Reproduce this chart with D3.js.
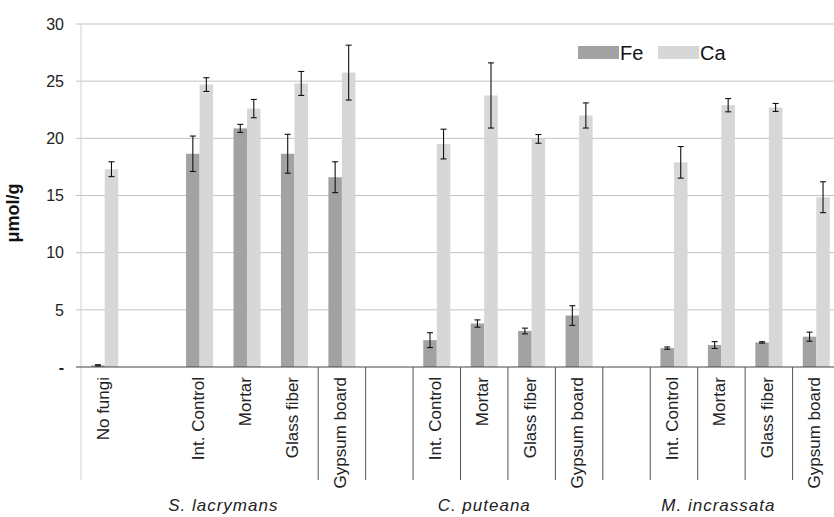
<!DOCTYPE html>
<html>
<head>
<meta charset="utf-8">
<script src="https://cdn.jsdelivr.net/npm/d3@7"></script>
<style>
  html, body { margin: 0; padding: 0; background: #fff; }
  svg { display: block; font-family: "Liberation Sans", Arial, sans-serif; }
</style>
</head>
<body>
<svg id="chart" width="834" height="517"></svg>
<script>
// ---- data ----
const categories = ["No fungi", "", "Int. Control", "Mortar", "Glass fiber", "Gypsum board",
                    "", "Int. Control", "Mortar", "Glass fiber", "Gypsum board",
                    "", "Int. Control", "Mortar", "Glass fiber", "Gypsum board"];
const groups = ["S. lacrymans", "C. puteana", "M. incrassata"];
const groupStart = [0, 6, 11];
const groupEnd = [5, 10, 15];
const separatorSlots = [5, 6, 7, 8, 9, 10, 11, 12, 13, 14, 15, 16];
const seriesNames = ["Fe", "Ca"];
const feValues = [0.15, null, 18.65, 20.87, 18.65, 16.6, null, 2.35, 3.8, 3.15, 4.5, null, 1.65, 1.92, 2.15, 2.65];
const feErrors = [0.05, null, 1.55, 0.35, 1.7, 1.35, null, 0.65, 0.32, 0.25, 0.86, null, 0.1, 0.3, 0.06, 0.4];
const caValues = [17.3, null, 24.7, 22.6, 24.8, 25.75, null, 19.5, 23.75, 19.95, 22.0, null, 17.9, 22.9, 22.7, 14.85];
const caErrors = [0.65, null, 0.6, 0.8, 1.05, 2.4, null, 1.3, 2.85, 0.38, 1.1, null, 1.38, 0.58, 0.35, 1.35];
const yTicks = [0, 5, 10, 15, 20, 25, 30];
const yTickLabels = ["-", "5", "10", "15", "20", "25", "30"];
const colors = { Fe: "#a2a2a2", Ca: "#d7d7d7" };

// ---- layout ----
const svg = d3.select("#chart");
const plotLeft = 81, plotRight = 840, plotTop = 24, plotBottom = 367, catBottom = 480;

const x = d3.scaleBand().domain(d3.range(categories.length)).range([plotLeft, plotRight]).padding(0);
const slotW = x.bandwidth();
const sub = d3.scaleBand().domain(seriesNames).range([-slotW * 0.285, slotW * 0.285]).padding(0);
const y = d3.scaleLinear().domain([0, 30]).range([plotBottom, plotTop]);

// gridlines
svg.append("g").selectAll("line").data(yTicks.filter(d => d > 0)).join("line")
  .attr("x1", plotLeft - 5).attr("x2", plotRight)
  .attr("y1", d => y(d)).attr("y2", d => y(d))
  .attr("stroke", "#c2c2c2").attr("stroke-width", 1);

// left axis line
svg.append("line").attr("x1", plotLeft).attr("x2", plotLeft)
  .attr("y1", plotTop).attr("y2", catBottom).attr("stroke", "#d0d0d0");

// y tick labels
svg.append("g").selectAll("text").data(yTicks).join("text")
  .attr("x", 64).attr("y", d => y(d)).attr("dy", "0.36em")
  .attr("text-anchor", "end").attr("font-size", 16).attr("fill", "#222")
  .attr("font-weight", (d, i) => yTickLabels[i] === "-" ? "bold" : "normal")
  .text((d, i) => yTickLabels[i]);

// y axis title
svg.append("text").attr("transform", "translate(19,213) rotate(-90)")
  .attr("text-anchor", "middle").attr("font-size", 18).attr("font-weight", "bold").attr("fill", "#111")
  .text("μmol/g");

// bars
const rows = categories.map((c, i) => ({ i, Fe: feValues[i], FeE: feErrors[i], Ca: caValues[i], CaE: caErrors[i] }));
const barData = [];
rows.forEach(r => seriesNames.forEach(s => { if (r[s] != null) barData.push({ i: r.i, s, v: r[s], e: r[s + "E"] }); }));
const cx = d => x(d.i) + slotW / 2 + sub(d.s);

svg.append("g").selectAll("rect").data(barData).join("rect")
  .attr("x", d => cx(d)).attr("width", sub.bandwidth())
  .attr("y", d => y(d.v)).attr("height", d => y(0) - y(d.v))
  .attr("fill", d => colors[d.s]);

// baseline
svg.append("line").attr("x1", plotLeft - 5).attr("x2", plotRight)
  .attr("y1", y(0)).attr("y2", y(0)).attr("stroke", "#444").attr("stroke-width", 1.2);

// error bars
const eg = svg.append("g").attr("stroke", "#111").attr("stroke-width", 1.1);
barData.forEach(d => {
  const mx = cx(d) + sub.bandwidth() / 2;
  const y1 = y(d.v + d.e), y2 = y(Math.max(0, d.v - d.e));
  eg.append("line").attr("x1", mx).attr("x2", mx).attr("y1", y1).attr("y2", y2);
  eg.append("line").attr("x1", mx - 3).attr("x2", mx + 3).attr("y1", y1).attr("y2", y1);
  eg.append("line").attr("x1", mx - 3).attr("x2", mx + 3).attr("y1", y2).attr("y2", y2);
});

// category separators
svg.append("g").selectAll("line").data(separatorSlots).join("line")
  .attr("x1", d => plotLeft + d * slotW).attr("x2", d => plotLeft + d * slotW)
  .attr("y1", plotBottom).attr("y2", catBottom)
  .attr("stroke", "#555").attr("stroke-width", 1);

// category labels (rotated)
svg.append("g").selectAll("text").data(categories.map((c, i) => ({ c, i })).filter(d => d.c !== "")).join("text")
  .attr("transform", d => `translate(${x(d.i) + slotW / 2 + 4},${plotBottom + 10}) rotate(-90)`)
  .attr("text-anchor", "end").attr("font-size", 17).attr("fill", "#222")
  .text(d => d.c);

// group labels
svg.append("g").selectAll("text").data(groups).join("text")
  .attr("x", (g, k) => (x(groupStart[k]) + Math.min(834, x(groupEnd[k]) + slotW)) / 2)
  .attr("y", 511).attr("text-anchor", "middle")
  .attr("font-size", 17).attr("font-style", "italic").attr("letter-spacing", 1).attr("fill", "#222")
  .text(g => g);

// legend
const legend = svg.append("g").attr("transform", "translate(578,46)");
const lg = legend.selectAll("g").data(seriesNames).join("g")
  .attr("transform", (d, i) => `translate(${i * 80},0)`);
lg.append("rect").attr("width", 41).attr("height", 13).attr("fill", d => colors[d]);
lg.append("text").attr("x", 42).attr("y", 14).attr("font-size", 20).attr("fill", "#111").text(d => d);
</script>
</body>
</html>
